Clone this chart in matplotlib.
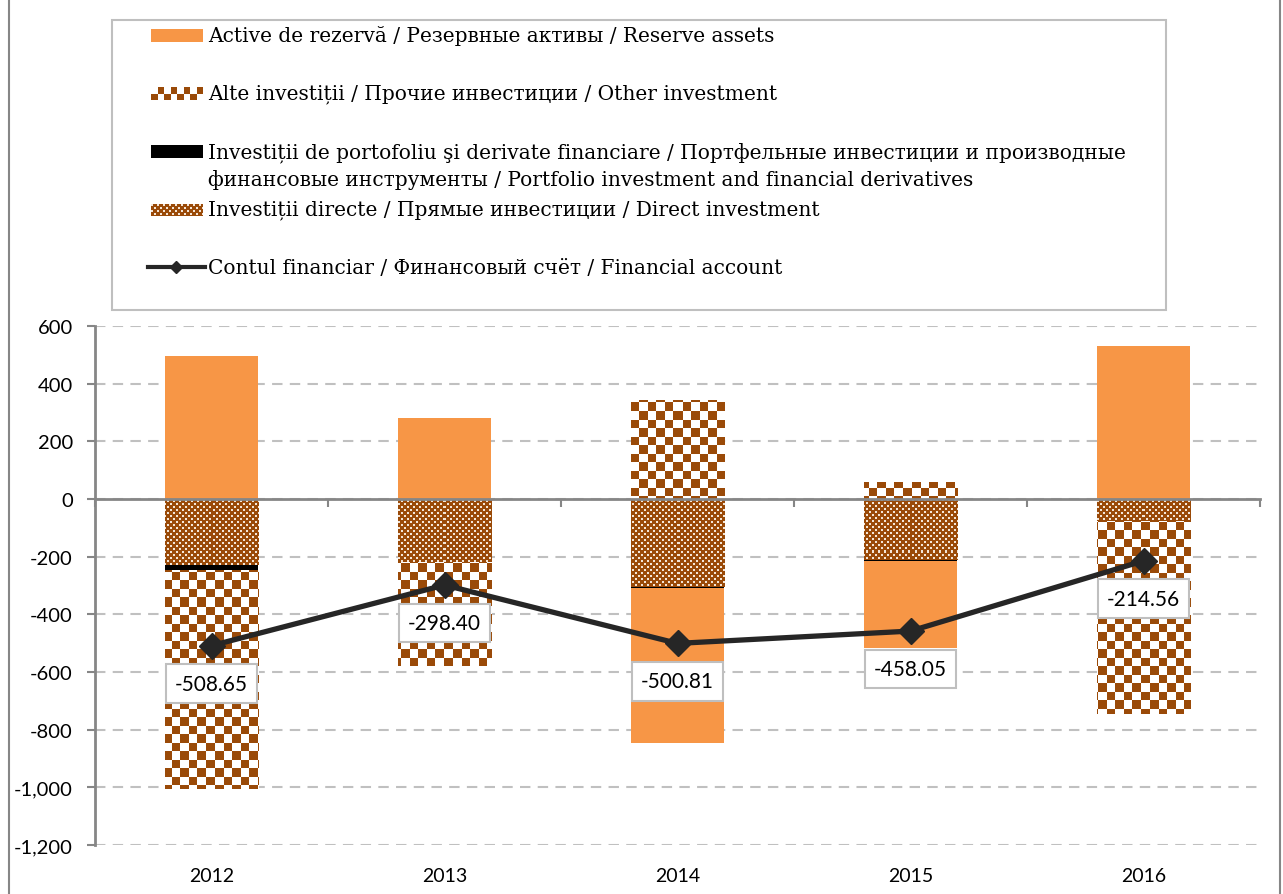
import numpy as np
import matplotlib
matplotlib.use("Agg")
from matplotlib import pyplot as plt
from matplotlib.patches import Rectangle
from matplotlib.lines import Line2D
from matplotlib.ticker import FuncFormatter, FixedLocator

# data (mln USD)
years = ["2012", "2013", "2014", "2015", "2016"]
direct_inv = [-228, -218, -305, -213, -76]
portfolio_inv = [-17, -0.5, -3, -2, 0]
other_inv = [-760, -361, 345, 60, -669]
reserve_assets = [497, 281, -538, -303, 530]
financial_account = [-508.65, -298.40, -500.81, -458.05, -214.56]

labels = ["Active de rezervă / Резервные активы / Reserve assets",
          "Alte investiții / Прочие инвестиции / Other investment",
          "Investiții de portofoliu şi derivate financiare / Портфельные инвестиции и производные\n"
          "финансовые инструменты / Portfolio investment and financial derivatives",
          "Investiții directe / Прямые инвестиции / Direct investment",
          "Contul financiar / Финансовый счёт / Financial account"]

orange = "#F79646"
brown = "#9A4A08"
line_col = "#262626"
axis_grey = "#868686"
grid_grey = "#C0C0C0"

W, H = 1283, 895
def fx(p):
    return p / W
def fy(p):
    return 1 - p / H

fig = plt.figure(figsize=(W / 100, H / 100), dpi=100)
ax_l, ax_r, ax_t, ax_b = 95, 1260, 327, 846
ax = fig.add_axes([fx(ax_l), fy(ax_b), (ax_r - ax_l) / W, (ax_b - ax_t) / H])

# textures at pixel resolution of the axes
tw, th = ax_r - ax_l, ax_b - ax_t
yy, xx = np.mgrid[0:th, 0:tw]
brown_rgb = np.array(matplotlib.colors.to_rgb(brown))
white_rgb = np.array([1.0, 1.0, 1.0])
check_mask = ((xx / 8.5).astype(int) + (yy / 8.5).astype(int)) % 2 == 0
checker_tex = np.where(check_mask[..., None], brown_rgb, white_rgb)
dot_mask = ((yy % 6 < 2) & (xx % 6 < 2)) | (((yy + 3) % 6 < 2) & ((xx + 3) % 6 < 2))
dot_rgb = np.array(matplotlib.colors.to_rgb("#F4E6D8"))
dots_tex = np.where(dot_mask[..., None], dot_rgb, brown_rgb)

x = np.arange(len(years))
pos_base = np.zeros(len(years))
neg_base = np.zeros(len(years))

def stacked(values, **kw):
    global pos_base, neg_base
    vals = np.array(values, dtype=float)
    bottom = np.where(vals >= 0, pos_base, neg_base)
    bars = ax.bar(x, vals, 0.4, bottom=bottom, zorder=2, linewidth=0, **kw)
    pos_base = pos_base + np.where(vals >= 0, vals, 0)
    neg_base = neg_base + np.where(vals < 0, vals, 0)
    return bars

def texture(bars, tex):
    for b in bars:
        im = ax.imshow(tex, extent=(0, 1, 0, 1), transform=ax.transAxes,
                       interpolation="nearest", aspect="auto", zorder=2.1)
        im.set_clip_path(b)

b_direct = stacked(direct_inv, color="none")
texture(b_direct, dots_tex)
b_port = stacked(portfolio_inv, color="black")
b_other = stacked(other_inv, color="none")
texture(b_other, checker_tex)
b_res = stacked(reserve_assets, color=orange)

ax.plot(x, financial_account, color=line_col, lw=3.8, marker="D", markersize=13,
        zorder=4, solid_joinstyle="miter")
for i, v in enumerate(financial_account):
    ax.annotate(f"{v:.2f}", (x[i], v), xytext=(0, -38), textcoords="offset pixels",
                ha="center", va="center", fontsize=15, family="Lato", zorder=5,
                bbox=dict(boxstyle="square,pad=0.45", fc="white", ec="#BFBFBF", lw=1.5))

ax.set_xlim(-0.5, len(years) - 0.5)
ax.set_ylim(-1200, 600)
ax.set_yticks(np.arange(-1200, 601, 200))
ax.yaxis.set_major_formatter(FuncFormatter(lambda v, p: f"{v:,.0f}"))
ax.yaxis.grid(True, color=grid_grey, lw=1.5, ls=(0, (5, 3.5)), zorder=0)
ax.set_axisbelow(True)
ax.tick_params(axis="y", length=6, width=1.5, color=axis_grey, pad=10, labelsize=14.5)
for t in ax.get_yticklabels():
    t.set_family("Lato")

for s in ["top", "right"]:
    ax.spines[s].set_visible(False)
ax.spines["left"].set_color(axis_grey)
ax.spines["left"].set_linewidth(2)
ax.spines["bottom"].set_position(("data", 0))
ax.spines["bottom"].set_color(axis_grey)
ax.spines["bottom"].set_linewidth(2)
ax.spines["bottom"].set_zorder(3)
ax.set_xticks(x)
ax.xaxis.set_minor_locator(FixedLocator(np.arange(len(years) + 1) - 0.5))
ax.tick_params(axis="x", which="major", length=0, labelbottom=False)
ax.tick_params(axis="x", which="minor", length=6, width=1.5, color=axis_grey)

sec = ax.secondary_xaxis("bottom")
sec.set_xticks(x, years)
sec.tick_params(length=0, pad=16, labelsize=14)
sec.spines["bottom"].set_visible(False)
for t in sec.get_xticklabels():
    t.set_family("Lato")

# legend drawn by hand to keep the original row layout
fig.add_artist(Rectangle((fx(112), fy(311)), fx(1166) - fx(112), fy(21) - fy(311),
                         transform=fig.transFigure, fill=False, ec="#BFBFBF", lw=1.5))
fig.add_artist(Rectangle((fx(9), fy(900)), fx(1280) - fx(9), fy(-5) - fy(900),
                         transform=fig.transFigure, fill=False, ec=axis_grey, lw=1.5))
hx0, hx1 = 151, 203
rows_y = [36, 94, 166, 210, 268]
fig.add_artist(Rectangle((fx(hx0), fy(43)), fx(hx1) - fx(hx0), fy(30) - fy(43),
                         transform=fig.transFigure, fc=orange, ec="none"))
cell = (hx1 - hx0) / 8
for c in range(8):
    top = c % 2 == 1
    y0 = 88 if top else 88 + 6.5
    fig.add_artist(Rectangle((fx(hx0 + c * cell), fy(y0 + 6.5)), cell / W, 6.5 / H,
                             transform=fig.transFigure, fc=brown, ec="none"))
fig.add_artist(Rectangle((fx(hx0), fy(159)), fx(hx1) - fx(hx0), fy(146) - fy(159),
                         transform=fig.transFigure, fc="black", ec="none"))
hax = fig.add_axes([fx(hx0), fy(217), (hx1 - hx0) / W, 12 / H])
hax.imshow(dots_tex[:12, :hx1 - hx0], interpolation="nearest", aspect="auto")
hax.axis("off")
fig.add_artist(Line2D([fx(148), fx(176), fx(205)], [fy(268)] * 3, transform=fig.transFigure,
                      color=line_col, lw=3, marker="D", markersize=6, markevery=[1]))

for lab, ry in zip(labels, rows_y):
    fig.text(fx(208), fy(ry), lab, va="center", ha="left", fontsize=14.5,
             family="DejaVu Serif", linespacing=1.45)

fig.savefig("out.png", dpi=100)
